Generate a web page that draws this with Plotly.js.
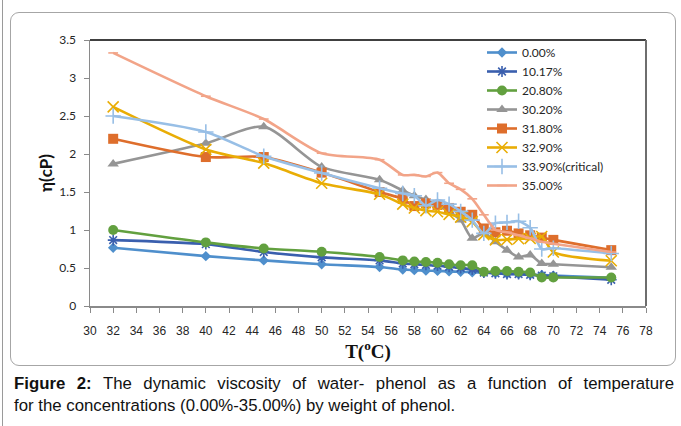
<!DOCTYPE html>
<html>
<head>
<meta charset="utf-8">
<script src="https://cdn.plot.ly/plotly-3.0.1.min.js"></script>
<style>
html,body{margin:0;padding:0;background:#fff;}
#wrap{position:relative;width:681px;height:426px;overflow:hidden;}
#outer{position:absolute;left:2px;top:-5px;width:700px;height:440px;border-left:1px solid #9a9a9a;}
#box{position:absolute;left:10px;top:12px;width:664px;height:352px;border:1px solid #a6a6a6;border-radius:9px;}
#chart{position:absolute;left:0;top:0;width:681px;height:426px;}
.cap{position:absolute;left:14px;font-family:'Liberation Sans',Arial,sans-serif;font-size:16.8px;line-height:22px;color:#111;white-space:nowrap;}
#cap1{top:373px;width:660px;text-align:justify;text-align-last:justify;white-space:normal;}
#cap2{top:395px;}
</style>
</head>
<body>
<div id="wrap">
<div id="outer"></div>
<div id="box"></div>
<div id="chart"></div>
<div class="cap" id="cap1"><b>Figure 2:</b> The dynamic viscosity of water- phenol as a function of temperature</div>
<div class="cap" id="cap2">for the concentrations (0.00%-35.00%) by weight of phenol.</div>
</div>
<script>
// Temperatures (°C)
const temps = [32,40,45,50,55,57,58,59,60,61,62,63,64,65,66,67,68,69,70,75];
// Viscosity (cP) per phenol concentration
const c000  = [0.766,0.656,0.600,0.550,0.513,0.480,0.472,0.465,0.462,0.455,0.450,0.445,0.440,0.434,0.425,0.420,0.413,0.407,0.400,0.370];
const c1017 = [0.867,0.814,0.710,0.640,0.600,0.560,0.550,0.540,0.530,0.515,0.500,0.480,0.440,0.430,0.420,0.420,0.410,0.400,0.390,0.345];
const c2080 = [1.000,0.837,0.757,0.713,0.645,0.600,0.585,0.580,0.570,0.550,0.537,0.537,0.450,0.460,0.460,0.450,0.440,0.375,0.375,0.375];
const c3020 = [1.870,2.140,2.360,1.830,1.660,1.520,1.450,1.400,1.330,1.240,1.130,0.890,0.960,0.845,0.735,0.645,0.670,0.560,0.550,0.510];
const c3180 = [2.200,1.960,1.960,1.755,1.500,1.410,1.315,1.350,1.330,1.290,1.240,1.200,1.020,0.970,0.990,0.955,0.930,0.900,0.870,0.735];
const c3290 = [2.620,2.060,1.880,1.615,1.470,1.340,1.290,1.255,1.240,1.205,1.170,1.110,0.940,0.870,0.875,0.885,0.890,0.915,0.710,0.595];
const c3390 = [2.500,2.290,1.970,1.750,1.550,1.480,1.450,1.320,1.395,1.340,1.245,1.130,0.955,1.090,1.100,1.115,1.030,0.750,0.760,0.690];
const c3500 = [3.330,2.760,2.460,2.010,1.925,1.725,1.725,1.705,1.755,1.615,1.535,1.410,1.200,1.000,0.970,0.930,0.890,0.845,0.820,0.710];

const names = ["0.00%","10.17%","20.80%","30.20%","31.80%","32.90%","33.90%(critical)","35.00%"];
const seriesVals = [c000,c1017,c2080,c3020,c3180,c3290,c3390,c3500];
const colors = ["#4f8fcc","#3a5fae","#62a03f","#959595","#de6e2c","#e9ad05","#98bfe6","#f2a488"];
const symbols = ["diamond","asterisk-open","circle","triangle-up","square","x-thin-open","cross-thin-open","line-ew-open"];
const sizes = [8,9,10,10,10,11,11,7];

const traces = seriesVals.map((v,i)=>({
  type:'scatter', mode:'lines+markers', name:names[i], x:temps, y:v,
  line:{color:colors[i], width:2.6, shape:'spline', smoothing:0.7},
  marker:{symbol:symbols[i], size:sizes[i], color:colors[i], line:{color:colors[i], width:(symbols[i].indexOf('open')>=0?1.6:0)}}
}));

const L=90, R=646, T=40, B=305.7;
const px2x = p => (p-L)/(R-L);
const px2y = p => (B-p)/(B-T);

const layout = {
  width:681, height:426,
  margin:{l:L, r:681-R, t:T, b:426-B, pad:0},
  paper_bgcolor:'rgba(0,0,0,0)', plot_bgcolor:'#ffffff',
  showlegend:true,
  legend:{x:px2x(482), y:px2y(38), xanchor:'left', yanchor:'top', bgcolor:'rgba(255,255,255,0)',
          font:{family:'Lato, Liberation Sans, sans-serif', size:12, color:'#262626'}, tracegroupgap:0, itemwidth:30},
  xaxis:{range:[30,78], tickmode:'array', tickvals:[30,32,34,36,38,40,42,44,46,48,50,52,54,56,58,60,62,64,66,68,70,72,74,76,78],
         showgrid:false, zeroline:false, showline:true, linecolor:'#8a8a8a', linewidth:2,
         ticks:'outside', ticklen:5, tickcolor:'#8a8a8a', tickwidth:1, ticklabelstandoff:8,
         tickfont:{family:'Liberation Sans Narrow, Liberation Sans, sans-serif', size:12, color:'#262626'},
         title:{text:'<b>T(<sup>o</sup>C)</b>', standoff:3, font:{family:'Liberation Serif, serif', size:19, color:'#111'}}},
  yaxis:{range:[0,3.5], tickmode:'array', tickvals:[0,0.5,1,1.5,2,2.5,3,3.5], ticktext:['0','0.5','1','1.5','2','2.5','3','3.5'],
         showgrid:false, zeroline:false, showline:true, linecolor:'#8a8a8a', linewidth:1.5,
         ticks:'outside', ticklen:5, tickcolor:'#8a8a8a', tickwidth:1, ticklabelstandoff:5,
         tickfont:{family:'Lato, Liberation Sans, sans-serif', size:12, color:'#262626'},
         title:{text:'<b>η(cP)</b>', standoff:2, font:{family:'Lato, Liberation Sans, sans-serif', size:17, color:'#111'}}},
  shapes:[
    {type:'line', xref:'paper', yref:'paper', x0:0, x1:1, y0:1, y1:1, line:{color:'#000', width:1.5}},
    {type:'line', xref:'paper', yref:'paper', x0:1, x1:1, y0:0, y1:1, line:{color:'#6e6e6e', width:2}}
  ]
};

Plotly.newPlot('chart', traces, layout, {displayModeBar:false, staticPlot:true});
</script>
</body>
</html>
